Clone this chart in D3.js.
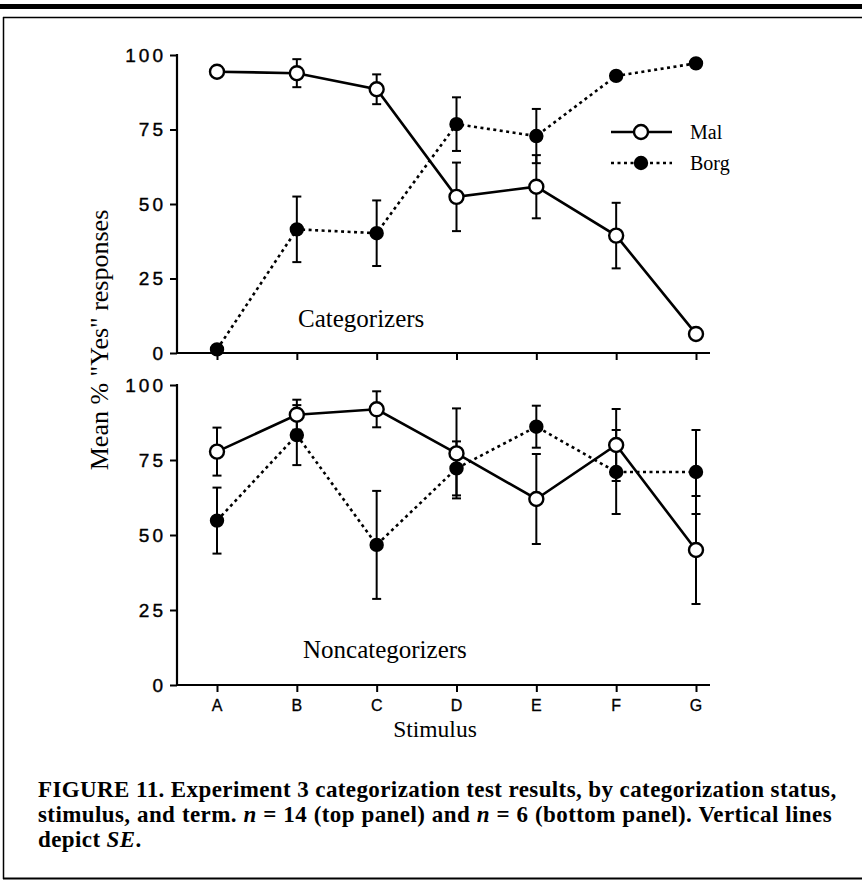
<!DOCTYPE html>
<html>
<head>
<meta charset="utf-8">
<script src="https://cdn.jsdelivr.net/npm/d3@7"></script>
<style>
  body { margin: 0; background: #fff; }
  svg { display: block; }
</style>
</head>
<body>
<script>
const stimuli = ['A', 'B', 'C', 'D', 'E', 'F', 'G'];
const yTicks = [0, 25, 50, 75, 100];

// top panel: categorizers
const catMal = [94.4, 93.9, 88.5, 52.4, 55.8, 39.4, 6.4];
const catMalSE = [0, 4.7, 5, 11.5, 10.6, 11, 0];
const catBorg = [1.2, 41.5, 40.2, 76.8, 72.8, 93, 97.2];
const catBorgSE = [0, 11, 11, 9, 9.1, 0, 0];

// bottom panel: noncategorizers
const nonMal = [77.8, 90.1, 91.9, 77.2, 62, 80, 45];
const nonMalSE = [8, 5, 6, 15, 15, 12, 18];
const nonBorg = [54.8, 83.3, 46.7, 72.2, 86.1, 71, 71];
const nonBorgSE = [11, 10, 18, 9, 7, 14, 14];

const captionLines = [
  [{ t: 'FIGURE 11. Experiment 3 categorization test results, by categorization status,' }],
  [{ t: 'stimulus, and term. ' }, { t: 'n', i: true }, { t: ' = 14 (top panel) and ' }, { t: 'n', i: true },
    { t: ' = 6 (bottom panel). Vertical lines' }],
  [{ t: 'depict ' }, { t: 'SE', i: true }, { t: '.' }],
];

const W = 862;
const H = 885;
const axisX = 177;
const axisEnd = 710;

const svg = d3.select('body').append('svg')
  .attr('width', W)
  .attr('height', H);

// frame
svg.append('rect').attr('x', 0).attr('y', 4).attr('width', W).attr('height', 5).style('fill', '#000');
svg.append('line').attr('x1', 3).attr('x2', W).attr('y1', 17.5).attr('y2', 17.5)
  .style('stroke', '#000').style('stroke-width', 1.5);
svg.append('line').attr('x1', 3.5).attr('x2', 3.5).attr('y1', 17).attr('y2', 879)
  .style('stroke', '#000').style('stroke-width', 1.5);
svg.append('line').attr('x1', 3).attr('x2', W).attr('y1', 878.5).attr('y2', 878.5)
  .style('stroke', '#000').style('stroke-width', 2);

const x = d3.scalePoint().domain(stimuli).range([217, 696]);

const tickFont = '"Liberation Sans", Arial, sans-serif';
const serif = '"Liberation Serif", "Times New Roman", serif';

function panel(top, bottom, mal, malSE, borg, borgSE, label, labelX, labelY) {
  const y = d3.scaleLinear().domain([0, 100]).range([bottom, top]);
  const g = svg.append('g');

  // y axis
  const yAxis = g.append('g').attr('transform', `translate(${axisX},0)`)
    .call(d3.axisLeft(y).tickValues(yTicks).tickSize(7).tickPadding(4));
  yAxis.select('.domain').remove();
  yAxis.selectAll('line').style('stroke', '#000').style('stroke-width', 2);
  yAxis.selectAll('text')
    .style('font-family', tickFont).style('font-size', '19px').style('letter-spacing', '3px')
    .style('fill', '#000').style('stroke', '#000').style('stroke-width', 0.4);
  g.append('line').attr('x1', axisX).attr('x2', axisX).attr('y1', top - 1).attr('y2', bottom)
    .style('stroke', '#000').style('stroke-width', 2.2);

  // x axis
  const xAxis = g.append('g').attr('transform', `translate(0,${bottom})`)
    .call(d3.axisBottom(x).tickSize(7).tickFormat(''));
  xAxis.select('.domain').remove();
  xAxis.selectAll('line').style('stroke', '#000').style('stroke-width', 2);
  g.append('line').attr('x1', axisX - 1).attr('x2', axisEnd).attr('y1', bottom).attr('y2', bottom)
    .style('stroke', '#000').style('stroke-width', 2.2);

  const series = [
    { v: mal, se: malSE, dash: null, fill: '#fff', r: 7 },
    { v: borg, se: borgSE, dash: '3,3.5', fill: '#000', r: 6 },
  ];

  // error bars
  series.forEach((s) => {
    const bars = stimuli.map((c, i) => ({ c, v: s.v[i], se: s.se[i] })).filter((d) => d.se > 0);
    const eb = g.append('g');
    eb.selectAll('line.err').data(bars).enter().append('line')
      .attr('x1', (d) => x(d.c)).attr('x2', (d) => x(d.c))
      .attr('y1', (d) => y(d.v + d.se)).attr('y2', (d) => y(d.v - d.se))
      .style('stroke', '#000').style('stroke-width', 2);
    [1, -1].forEach((k) => {
      eb.selectAll(null).data(bars).enter().append('line')
        .attr('x1', (d) => x(d.c) - 4.5).attr('x2', (d) => x(d.c) + 4.5)
        .attr('y1', (d) => y(d.v + k * d.se)).attr('y2', (d) => y(d.v + k * d.se))
        .style('stroke', '#000').style('stroke-width', 2);
    });
  });

  // lines and markers
  const line = d3.line().x((d, i) => x(stimuli[i])).y((d) => y(d));
  series.slice().reverse().forEach((s) => {
    g.append('path').datum(s.v).attr('d', line)
      .style('fill', 'none').style('stroke', '#000').style('stroke-width', 2.6)
      .style('stroke-dasharray', s.dash);
  });
  series.slice().reverse().forEach((s) => {
    g.selectAll(null).data(s.v).enter().append('circle')
      .attr('cx', (d, i) => x(stimuli[i])).attr('cy', (d) => y(d))
      .attr('r', s.r)
      .style('fill', s.fill).style('stroke', '#000').style('stroke-width', 2.4);
  });

  g.append('text').attr('x', labelX).attr('y', labelY).text(label)
    .style('font-family', serif).style('font-size', '25px').style('fill', '#000');
}

panel(55, 353, catMal, catMalSE, catBorg, catBorgSE, 'Categorizers', 298, 327);
panel(385, 685, nonMal, nonMalSE, nonBorg, nonBorgSE, 'Noncategorizers', 303, 658);

// x labels
svg.append('g').selectAll('text').data(stimuli).enter().append('text')
  .attr('x', (d) => x(d)).attr('y', 711).attr('text-anchor', 'middle').text((d) => d)
  .style('font-family', tickFont).style('font-size', '16px').style('fill', '#000')
  .style('stroke', '#000').style('stroke-width', 0.3);
svg.append('text').attr('x', 435).attr('y', 737).attr('text-anchor', 'middle').text('Stimulus')
  .style('font-family', serif).style('font-size', '23.5px').style('fill', '#000');

// y label
svg.append('text').attr('transform', 'translate(108,340) rotate(-90)').attr('text-anchor', 'middle')
  .text('Mean % "Yes" responses')
  .style('font-family', serif).style('font-size', '26px').style('fill', '#000');

// legend
const legend = [
  { name: 'Mal', dash: null, fill: '#fff', r: 7, y: 132 },
  { name: 'Borg', dash: '3,3.5', fill: '#000', r: 6, y: 163 },
];
const lg = svg.append('g');
legend.forEach((d) => {
  lg.append('line').attr('x1', 611).attr('x2', 672).attr('y1', d.y).attr('y2', d.y)
    .style('stroke', '#000').style('stroke-width', 2.6).style('stroke-dasharray', d.dash);
  lg.append('circle').attr('cx', 641).attr('cy', d.y).attr('r', d.r)
    .style('fill', d.fill).style('stroke', '#000').style('stroke-width', 2.4);
  lg.append('text').attr('x', 690).attr('y', d.y + 7).text(d.name)
    .style('font-family', serif).style('font-size', '20px').style('fill', '#000');
});

// caption, first two lines justified to the frame width
const cap = svg.append('g');
captionLines.forEach((parts, li) => {
  const t = cap.append('text').attr('x', 38).attr('y', 797 + li * 25)
    .style('font-family', serif).style('font-size', '23px').style('font-weight', 'bold')
    .style('letter-spacing', '0.4px')
    .style('fill', '#000');
  parts.forEach((p) => {
    t.append('tspan').text(p.t).style('font-style', p.i ? 'italic' : 'normal');
  });
  if (li < 2) {
    const full = parts.map((p) => p.t).join('');
    const spaces = full.split(' ').length - 1;
    const len = t.node().getComputedTextLength();
    t.style('word-spacing', `${Math.max(0, (794 - len) / spaces)}px`);
  }
});
</script>
</body>
</html>
